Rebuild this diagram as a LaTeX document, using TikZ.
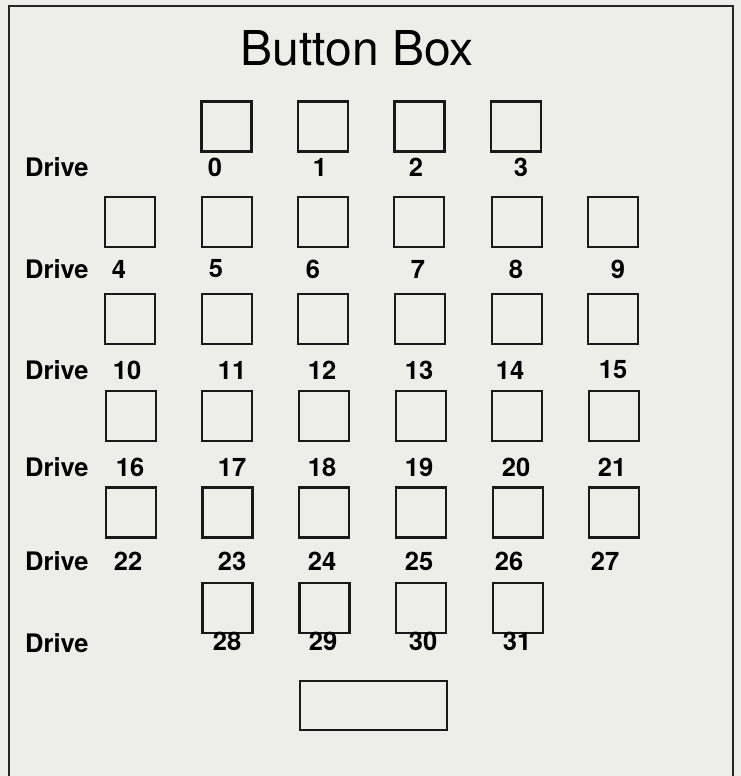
\documentclass[tikz,border=0pt]{standalone}
\usepackage{fontspec}
\setmainfont{TeX Gyre Heros}
\definecolor{paper}{RGB}{238,238,232}
\begin{document}
\begin{tikzpicture}[x=1pt,y=-1pt,
  btn/.style={draw=black!90, line width=2.6pt, minimum width=50pt, minimum height=50pt, inner sep=0pt},
  numlbl/.style={inner sep=0pt, font=\fontsize{25.5}{25.5}\selectfont\bfseries},
  drivelbl/.style={inner sep=0pt, anchor=west, font=\fontsize{25.5}{25.5}\selectfont\bfseries},
  frameline/.style={line width=2.4pt, draw=black!85}]
\fill[paper] (0,0) rectangle (741,776);
\useasboundingbox (0,0) rectangle (741,776);
\draw[frameline] (9,776) -- (9,6) -- (733,6) -- (733,776);
\node[inner sep=0pt, font=\fontsize{48}{48}\selectfont] (title) at (357,48) {Button Box};
% buttons
\foreach \n/\x/\y in {0/226.5/126.5, 1/323/126.5, 2/419.5/126.5, 3/516/126.5,
  4/130/222, 5/227/222, 6/323/222, 7/419/222, 8/517/222, 9/613/222,
  10/130/319, 11/227/319, 12/323/319, 13/420/319, 14/517/319, 15/613/319,
  16/131/416, 17/227/416, 18/324/416, 19/421/416, 20/517/416, 21/614/416,
  22/131/512.5, 23/227.5/512.5, 24/324/512.5, 25/421/512.5, 26/518/512.5, 27/614/512.5,
  28/227.5/608, 29/324.5/608, 30/421/608, 31/518/608}
  \node[btn] (b\n) at (\x,\y) {};
\node[btn, minimum width=147pt, minimum height=49pt] (wide) at (373.5,705.5) {};
% number labels
\foreach \n/\x/\y in {0/215/167, 1/320/167, 2/416/167, 3/521/167,
  4/119/269, 5/216/269, 6/313/269, 7/418/269, 8/516/269, 9/618/269,
  10/127/370, 11/232/370, 12/322/370, 13/419/370, 14/510/370, 15/613/370,
  16/130/467, 17/232/467, 18/322/467, 19/419/467, 20/516/467, 21/612/467,
  22/128/561, 23/232/561, 24/322/561, 25/419/561, 26/509/561, 27/605/561,
  28/227/641, 29/323/641, 30/423/641, 31/517/641}
  \node[numlbl] (l\n) at (\x,\y) {\n};
% drive labels
\foreach \i/\y in {0/167, 1/269, 2/370, 3/467, 4/561, 5/643}
  \node[drivelbl] (d\i) at (25,\y) {Drive};
\end{tikzpicture}
\end{document}
